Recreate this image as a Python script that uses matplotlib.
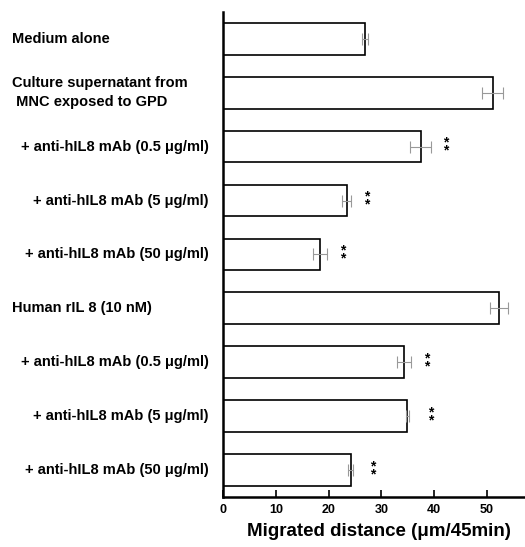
import numpy as np
import matplotlib
matplotlib.use('Agg')
import matplotlib.pyplot as plt

plt.rcParams['font.family'] = ['Liberation Sans', 'DejaVu Sans']

# Data
labels = ['Medium alone',
          'Culture supernatant from\n MNC exposed to GPD',
          '+ anti-hIL8 mAb (0.5 \u03bcg/ml)',
          '+ anti-hIL8 mAb (5 \u03bcg/ml)',
          '+ anti-hIL8 mAb (50 \u03bcg/ml)',
          'Human rIL 8 (10 nM)',
          '+ anti-hIL8 mAb (0.5 \u03bcg/ml)',
          '+ anti-hIL8 mAb (5 \u03bcg/ml)',
          '+ anti-hIL8 mAb (50 \u03bcg/ml)']
left_aligned = [True, True, False, False, False, True, False, False, False]
values = [26.9, 51.2, 37.5, 23.4, 18.4, 52.4, 34.3, 34.9, 24.2]
errors = [0.5, 2.0, 2.0, 0.8, 1.3, 1.7, 1.3, 0.3, 0.5]
star_x = [None, None, 42.2, 27.2, 22.6, None, 38.7, 39.3, 28.3]
xticks = [0, 10, 20, 30, 40, 50]

fig = plt.figure(figsize=(5.25, 5.47), dpi=100)
ax = fig.add_axes([0.4257, 0.091, 0.5743, 0.8876])

y = np.arange(len(values))
ax.barh(y, values, height=0.59, color='white', edgecolor='black', linewidth=1.2)
ax.errorbar(values, y, xerr=errors, fmt='none', ecolor='#999999',
            elinewidth=0.8, capsize=4, capthick=0.8)

for yi, sx in zip(y, star_x):
    if sx is not None:
        ax.text(sx, yi, '*\n*', ha='center', va='center', fontsize=10,
                fontweight='bold', linespacing=0.5)

ax.set_xlim(0, 57.3)
ax.set_ylim(8.5, -0.5)
ax.set_xticks(xticks)
ax.set_xticklabels([str(t) for t in xticks], fontsize=9, fontweight='bold')
ax.set_yticks([])
ax.tick_params(axis='x', direction='in', length=5, width=1.2, pad=5)
ax.spines['top'].set_visible(False)
ax.spines['right'].set_visible(False)
ax.spines['left'].set_linewidth(1.8)
ax.spines['bottom'].set_linewidth(1.8)

# Category labels
for yi, lab, la in zip(y, labels, left_aligned):
    if la:
        ax.text(-0.70, yi, lab, transform=ax.get_yaxis_transform(),
                ha='left', va='center', fontsize=10.5, fontweight='bold',
                linespacing=1.5)
    else:
        ax.text(-0.05, yi, lab, transform=ax.get_yaxis_transform(),
                ha='right', va='center', fontsize=10.5, fontweight='bold')

fig.text(0.722, 0.029, 'Migrated distance (\u03bcm/45min)', ha='center',
         va='center', fontsize=13.5, fontweight='bold')

fig.savefig('out.png', dpi=100)
